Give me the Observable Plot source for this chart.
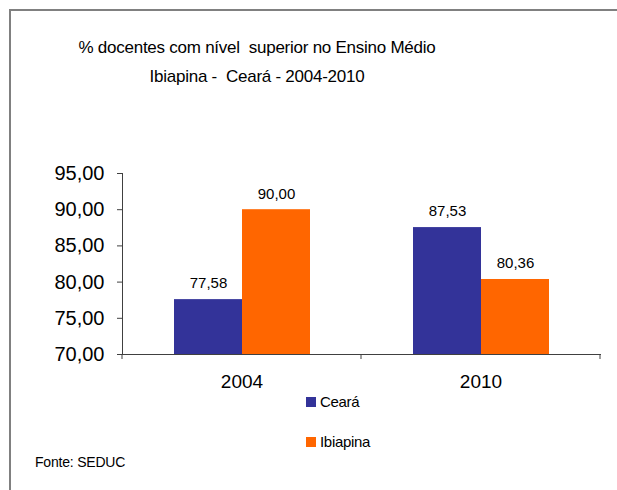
<!DOCTYPE html>
<html>
<head>
<meta charset="utf-8">
<script src="https://cdn.jsdelivr.net/npm/d3@7"></script>
<script src="https://cdn.jsdelivr.net/npm/@observablehq/plot@0.6"></script>
<style>
  html, body { margin: 0; padding: 0; background: #fff; overflow: hidden; }
  #wrap { position: relative; width: 617px; height: 490px; overflow: hidden; font-family: "Liberation Sans", Arial, sans-serif; color: #000; }
  #bTop { position: absolute; left: 9px; top: 9px; width: 620px; height: 2px; background: #808080; }
  #bLeft { position: absolute; left: 9px; top: 9px; width: 2px; height: 490px; background: #808080; }
  .t { position: absolute; white-space: pre; line-height: 1; }
  .title { left: 57px; width: 400px; text-align: center; font-size: 17px; letter-spacing: -0.25px; }
  .sw { position: absolute; width: 10px; height: 10px; }
  #chart { position: absolute; left: 0; top: 150px; }
</style>
</head>
<body>
<div id="wrap">
  <div id="bTop"></div>
  <div id="bLeft"></div>
  <div class="t title" style="top:38.6px">% docentes com nível  superior no Ensino Médio</div>
  <div class="t title" style="top:67.6px">Ibiapina -  Ceará - 2004-2010</div>
  <div id="chart"></div>
  <div id="legend"></div>
  <div class="t" style="left:35px; top:455px; font-size:14px; letter-spacing:-0.2px">Fonte: SEDUC</div>
</div>
<script>
const years = ["2004", "2010"];
const series = ["Ceará", "Ibiapina"];
const ceara = [77.58, 87.53];
const ibiapina = [90.00, 80.36];
const yTicks = [70, 75, 80, 85, 90, 95];
const colors = ["#333399", "#FF6600"];

const fmt = d => d.toFixed(2).replace(".", ",");

const data = years.flatMap((yr, i) => [
  {year: yr, serie: series[0], value: ceara[i]},
  {year: yr, serie: series[1], value: ibiapina[i]}
]);

const axisColor = "#404040";

const chart = Plot.plot({
  width: 617,
  height: 250,
  marginTop: 23,
  marginBottom: 46,
  marginLeft: 121,
  marginRight: 17,
  style: {fontFamily: "'Liberation Sans', Arial, sans-serif", fontSize: "20px", color: "#000", background: "transparent", overflow: "visible"},
  fx: {domain: years, padding: 0, label: null},
  x: {domain: series, paddingInner: 0, paddingOuter: 0.74, axis: null},
  y: {domain: [70, 95], label: null},
  color: {domain: series, range: colors},
  marks: [
    Plot.barY(data, {fx: "year", x: "serie", y1: 70, y2: "value", fill: "serie"}),
    Plot.text(data, {fx: "year", x: "serie", y: "value", text: d => fmt(d.value), dy: -16, fontSize: 15, fill: "#000"}),
    Plot.frame({anchor: "left", facetAnchor: "left", stroke: axisColor}),
    Plot.frame({anchor: "bottom", stroke: axisColor}),
    Plot.axisY({ticks: yTicks, tickFormat: fmt, tickSize: 5, tickPadding: 13, fontSize: 20, stroke: axisColor, label: null}),
    Plot.axisFx({anchor: "bottom", tickSize: 0, tickPadding: 20, fontSize: 19, label: null})
  ]
});

// category boundary tick marks, placed from the library's own scales
const fx = chart.scale("fx");
const ys = chart.scale("y");
const y0 = ys.apply(70);
const edges = years.map(v => fx.apply(v)).concat([fx.apply(years[years.length - 1]) + fx.bandwidth]);
d3.select(chart).append("g")
  .attr("stroke", axisColor)
  .selectAll("line").data(edges).join("line")
  .attr("x1", d => d).attr("x2", d => d)
  .attr("y1", y0).attr("y2", y0 + 5);

document.getElementById("chart").appendChild(chart);

// legend
const legend = document.getElementById("legend");
series.forEach((s, i) => {
  const top = 397 + i * 40;
  const sw = document.createElement("div");
  sw.className = "sw";
  sw.style.left = "306px";
  sw.style.top = top + "px";
  sw.style.background = colors[i];
  legend.appendChild(sw);
  const tx = document.createElement("div");
  tx.className = "t";
  tx.style.left = "320px";
  tx.style.top = (top - 2.7) + "px";
  tx.style.fontSize = "15px";
  tx.style.letterSpacing = "-0.3px";
  tx.textContent = s;
  legend.appendChild(tx);
});
</script>
</body>
</html>
